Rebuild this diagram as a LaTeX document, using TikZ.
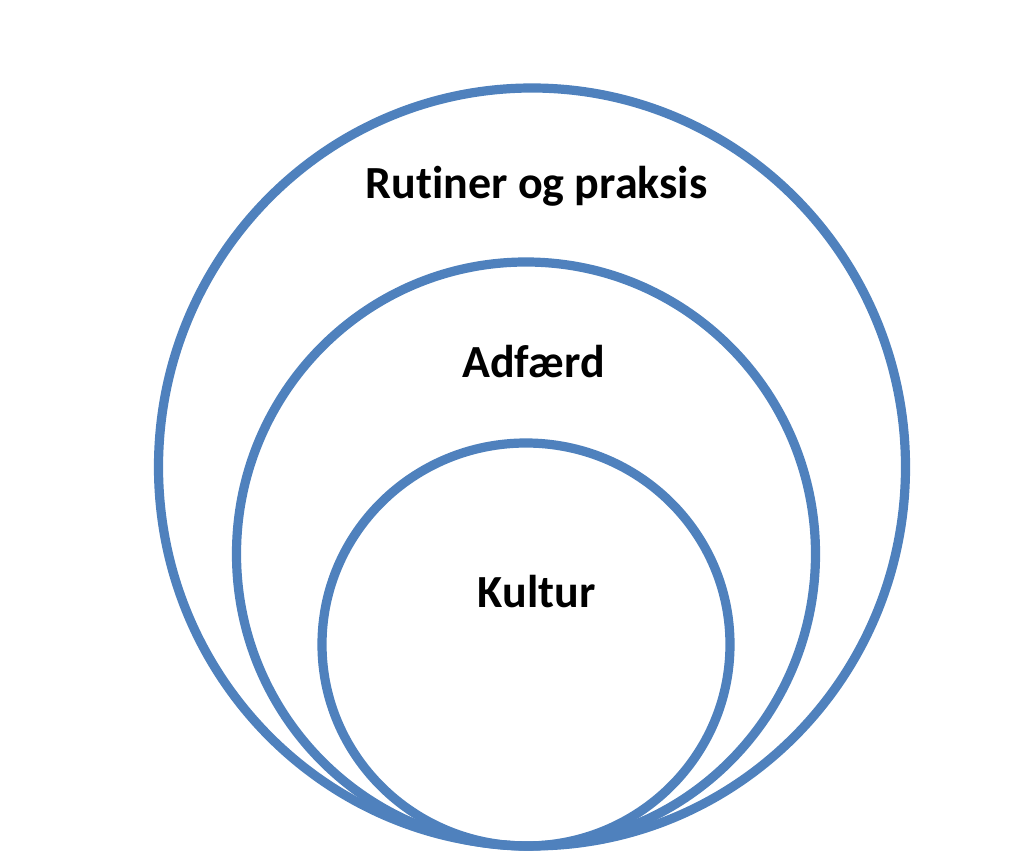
\documentclass[tikz,border=0pt]{standalone}
\usepackage{fontspec}
\setmainfont{Carlito}[Ligatures=NoCommon]
\definecolor{ringblue}{HTML}{4F81BD}
\begin{document}
\begin{tikzpicture}
	[x=0.5pt,y=-0.5pt,
	ring/.style={draw=ringblue,line width=4.6pt},
	label/.style={font=\bfseries\fontsize{23}{28}\selectfont,anchor=base,inner sep=0pt}]
	\useasboundingbox (0,0) rectangle (1024,855);
	\draw[ring] (532,467) ellipse [x radius=373.5,y radius=379];
	\draw[ring] (526,554) ellipse [x radius=289.5,y radius=292];
	\draw[ring] (526,644.5) ellipse [x radius=204,y radius=201.5];
	\node[label] (rutiner) at (536.5,199) {Rutiner og praksis};
	\node[label] (adfaerd) at (533.5,378) {Adfærd};
	\node[label] (kultur) at (536.5,608) {Kultur};
\end{tikzpicture}
\end{document}
